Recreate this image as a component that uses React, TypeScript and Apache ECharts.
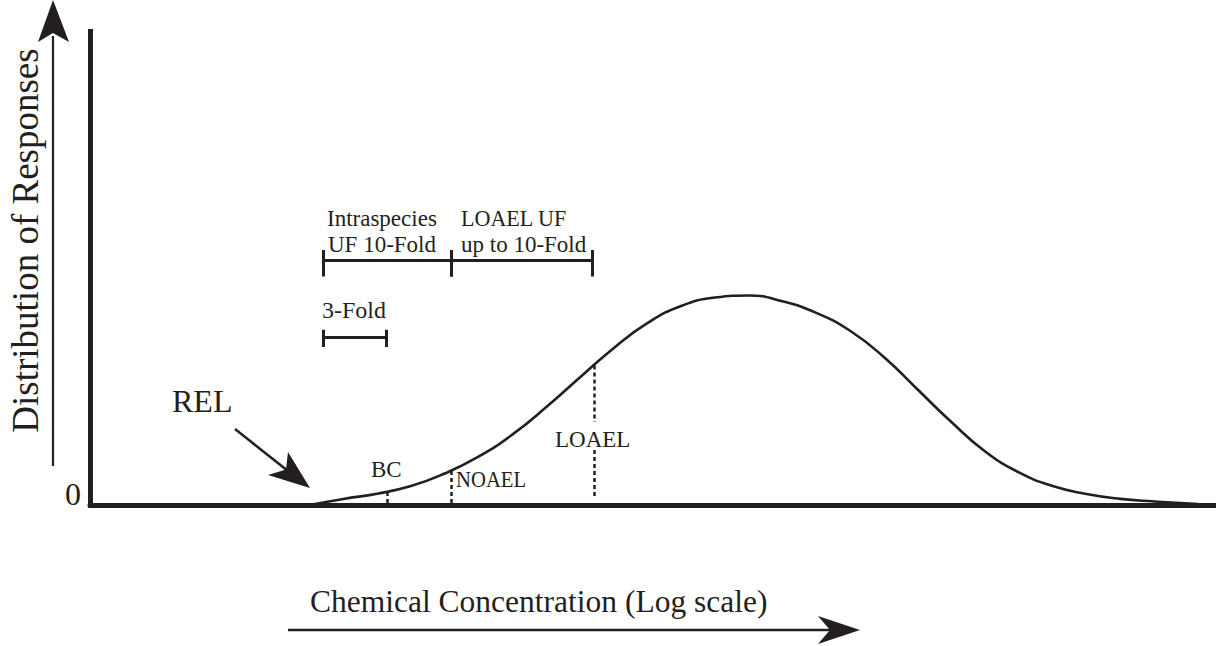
import React, { useEffect, useRef } from 'react';
import * as echarts from 'echarts';

const INK = '#231f20';
const FONT = '"Liberation Serif", "Times New Roman", serif';

// Dose–response distribution: x = log chemical concentration (0–100 along the axis), y = response (peak ≈ 100)
const curveX = [19.5, 22.5, 25.5, 28.5, 31.5, 34.5, 37.5, 40.5, 43.5, 46.5, 49.5, 52.5, 55.5, 58.5, 61.5, 64.5, 67.5, 70.5, 73.5, 76.5, 79.5, 82.5, 85.5, 88.5, 91.5, 94.5, 98.4];
const curveY = [0, 2.9, 5.4, 9.0, 15.0, 23.0, 33.5, 46.5, 60.7, 74.7, 86.6, 94.8, 98.8, 99.8, 97.0, 91.5, 83.0, 70.5, 55.0, 39.5, 25.5, 15.5, 9.0, 5.2, 2.9, 1.7, 0.5];

// Reference levels marked with dotted lines
const markerNames = ['BC', 'NOAEL', 'LOAEL'];
const markerX = [26.4, 32.1, 44.8];
const markerTop = [6.2, 16.2, 66.4];
const markerBottom = [0, -1.4, 3.3];
// LOAEL dotted line is interrupted by its label between these levels
const loaelGap = [39.5, 26.2];

// Uncertainty-factor brackets
const bracketLabels = [['Intraspecies', 'UF 10-Fold'], ['LOAEL UF', 'up to 10-Fold'], ['3-Fold']];
const bracketStart = [20.7, 32.1, 20.7];
const bracketEnd = [32.1, 44.6, 26.3];
const bracketLevel = [116.7, 116.7, 80.0];

const yTickValues = [0];

export default function App() {
  const ref = useRef<HTMLDivElement>(null);
  useEffect(() => {
    const chart = echarts.init(ref.current!, null, { renderer: 'svg' });

    const tickUp = [4.8, 4.8, 3.5];
    const tickDown = [7.9, 7.9, 4.8];
    const bracketSegs: any[] = [];
    bracketStart.forEach((s, i) => {
      const e = bracketEnd[i];
      const y = bracketLevel[i];
      bracketSegs.push({ coords: [[s, y], [e, y]] });
      bracketSegs.push({ coords: [[s, y + tickUp[i]], [s, y - tickDown[i]]] });
      bracketSegs.push({ coords: [[e, y + tickUp[i]], [e, y - tickDown[i]]] });
    });

    const dotSegs: any[] = [];
    markerX.forEach((x, i) => {
      if (markerNames[i] === 'LOAEL') {
        dotSegs.push({ coords: [[x, markerTop[i]], [x, loaelGap[0]]] });
        dotSegs.push({ coords: [[x, loaelGap[1]], [x, markerBottom[i]]] });
      } else {
        dotSegs.push({ coords: [[x, markerTop[i]], [x, markerBottom[i]]] });
      }
    });

    const txt = (text: string, x: number, y: number, size: number, extra: any = {}) => ({
      type: 'text',
      x,
      y,
      silent: true,
      ...extra,
      style: {
        text,
        fontSize: size,
        fontFamily: FONT,
        fill: INK,
        align: extra.align || 'left',
        verticalAlign: 'middle',
      },
    });

    const option: any = {
      animation: false,
      grid: { left: 90, right: 0, top: 31.5, bottom: 141 },
      xAxis: {
        type: 'value',
        min: 0,
        max: 100,
        axisLine: { show: true, lineStyle: { color: INK, width: 5 } },
        axisTick: { show: false },
        axisLabel: { show: false },
        splitLine: { show: false },
      },
      yAxis: {
        type: 'value',
        min: 0,
        max: 225.5,
        axisLine: { show: true, lineStyle: { color: INK, width: 5, cap: 'square' } },
        axisTick: { show: false },
        splitLine: { show: false },
        axisLabel: {
          customValues: yTickValues,
          color: INK,
          fontFamily: FONT,
          fontSize: 32,
          margin: 9,
          verticalAlign: 'bottom',
          lineHeight: 22,
        },
      },
      series: [
        {
          type: 'line',
          data: curveX.map((x, i) => [x, curveY[i]]),
          smooth: 0.5,
          showSymbol: false,
          clip: false,
          lineStyle: { color: INK, width: 2.6 },
          silent: true,
        },
        {
          type: 'lines',
          coordinateSystem: 'cartesian2d',
          data: bracketSegs,
          lineStyle: { color: INK, width: 3, opacity: 1 },
          silent: true,
        },
        {
          type: 'lines',
          coordinateSystem: 'cartesian2d',
          data: dotSegs,
          lineStyle: { color: INK, width: 2.5, type: [4, 3], opacity: 1 },
          silent: true,
        },
      ],
      graphic: [
        // y-axis direction arrow + title
        { type: 'line', silent: true, shape: { x1: 53, y1: 466, x2: 53, y2: 36 }, style: { stroke: INK, lineWidth: 2.2 } },
        { type: 'polygon', silent: true, shape: { points: [[53, 0], [69, 42], [53, 33], [38, 42]] }, style: { fill: INK } },
        {
          type: 'text',
          x: 25.5,
          y: 240.5,
          rotation: Math.PI / 2,
          silent: true,
          style: { text: 'Distribution of Responses', fontSize: 37, fontFamily: FONT, fill: INK, align: 'center', verticalAlign: 'middle' },
        },
        // x-axis direction arrow + title
        { type: 'line', silent: true, shape: { x1: 288, y1: 630, x2: 835, y2: 630 }, style: { stroke: INK, lineWidth: 2.5 } },
        { type: 'polygon', silent: true, shape: { points: [[860, 630], [818, 616], [830, 630], [818, 644]] }, style: { fill: INK } },
        txt('Chemical Concentration (Log scale)', 310, 601.5, 31.5),
        // REL pointer
        txt('REL', 172, 401, 32),
        { type: 'line', silent: true, shape: { x1: 235, y1: 429, x2: 288, y2: 471 }, style: { stroke: INK, lineWidth: 2.5 } },
        { type: 'polygon', silent: true, shape: { points: [[310, 488], [268, 475], [286, 469.5], [288, 452]] }, style: { fill: INK } },
        // marker labels
        txt(markerNames[0], 371, 469.2, 23),
        txt(markerNames[1], 456, 479.2, 23, { scaleX: 0.9 }),
        txt(markerNames[2], 555, 439.2, 23),
        // bracket labels
        txt(bracketLabels[0][0], 327, 218.2, 23),
        txt(bracketLabels[0][1], 328, 244.2, 23),
        txt(bracketLabels[1][0], 461, 218.2, 23, { scaleX: 0.96 }),
        txt(bracketLabels[1][1], 461, 244.2, 23),
        txt(bracketLabels[2][0], 322, 309.9, 24),
      ],
    };
    chart.setOption(option);
    return () => chart.dispose();
  }, []);
  return <div ref={ref} style={{ position: 'fixed', left: 0, top: 0, width: 1216, height: 646, background: '#fff' }} />;
}
